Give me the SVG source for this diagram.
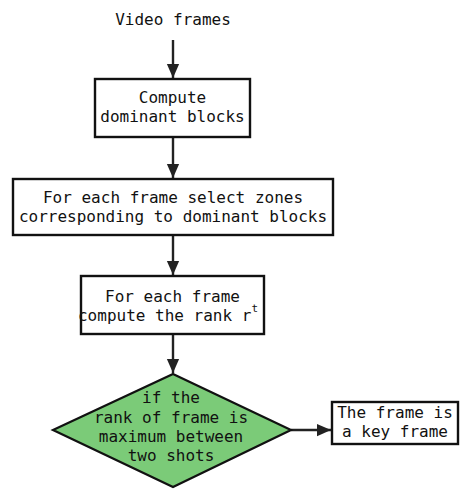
<svg xmlns="http://www.w3.org/2000/svg" width="474" height="501" viewBox="0 0 474 501">
<style>
.box{fill:#fff;stroke:#111;stroke-width:2.4}
.dia{fill:#7bcb78;stroke:#111;stroke-width:2.2}
text{font-family:"DejaVu Sans Mono","Liberation Mono",monospace;font-size:16px;fill:#111;text-anchor:middle}
.edge{stroke:#222;stroke-width:2.4;fill:none}
</style>
<defs>
<marker id="ah" markerWidth="14" markerHeight="14" viewBox="0 0 16 14" refX="16" refY="7" orient="auto" markerUnits="userSpaceOnUse">
<path d="M0,0 L16,7 L0,14 z" fill="#222"/>
</marker>
</defs>
<g id="edges">
<line class="edge" x1="173" y1="40" x2="173" y2="78" marker-end="url(#ah)"/>
<line class="edge" x1="173" y1="138" x2="173" y2="178" marker-end="url(#ah)"/>
<line class="edge" x1="173" y1="236" x2="173" y2="275" marker-end="url(#ah)"/>
<line class="edge" x1="173" y1="335" x2="173" y2="373" marker-end="url(#ah)"/>
<line class="edge" x1="291" y1="430" x2="331" y2="430" marker-end="url(#ah)"/>
</g>
<g id="start">
<text x="173" y="25">Video frames</text>
</g>
<g id="n1">
<rect class="box" x="95" y="79" width="155" height="58"/>
<text x="172.5" y="103">Compute</text>
<text x="172.5" y="122">dominant blocks</text>
</g>
<g id="n2">
<rect class="box" x="13" y="179" width="320" height="56"/>
<text x="173" y="203">For each frame select zones</text>
<text x="173" y="222">corresponding to dominant blocks</text>
</g>
<g id="n3">
<rect class="box" x="81" y="276" width="183" height="58"/>
<text x="172.5" y="302">For each frame</text>
<text x="168" y="321">compute the rank r<tspan font-size="11" dy="-9">t</tspan></text>
</g>
<g id="n4">
<polygon class="dia" points="173,374 291,430 173,487 53,430"/>
<text x="171" y="403">if the</text>
<text x="171" y="423">rank of frame is</text>
<text x="171" y="442">maximum between</text>
<text x="171" y="461">two shots</text>
</g>
<g id="n5">
<rect class="box" x="332" y="402" width="126" height="42"/>
<text x="395" y="418">The frame is</text>
<text x="395" y="437">a key frame</text>
</g>
</svg>
